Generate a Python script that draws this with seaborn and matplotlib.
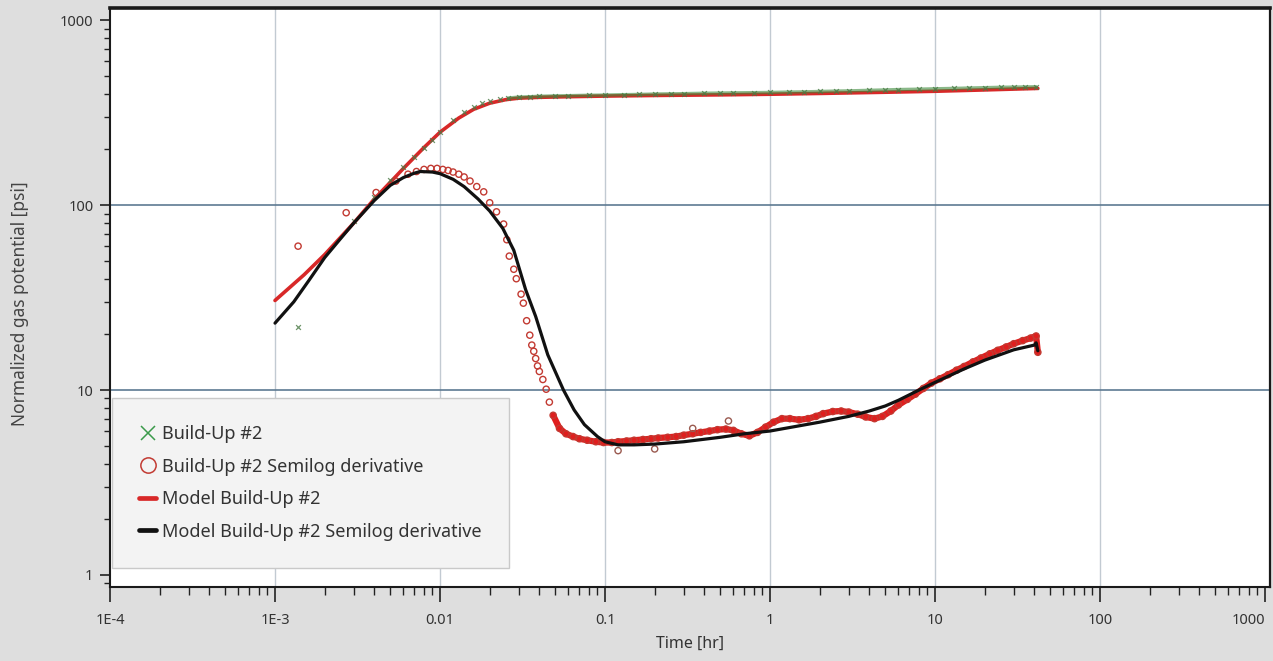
import numpy as np
import pandas as pd
import matplotlib
matplotlib.use("Agg")
import matplotlib.pyplot as plt
import seaborn as sns
from matplotlib.lines import Line2D
from matplotlib.ticker import LogLocator, NullFormatter, FixedLocator, FixedFormatter

# ---------------- data ----------------
# Build-Up #2 (pressure data, green x)
pressure_t = [0.00138, 0.0030, 0.0040, 0.0050, 0.0060, 0.0070, 0.0080, 0.0090, 0.010, 0.012,
              0.014, 0.016, 0.018, 0.020, 0.023, 0.026, 0.030, 0.035, 0.040, 0.050,
              0.060, 0.080, 0.10, 0.13, 0.16, 0.20, 0.25, 0.30, 0.40, 0.50,
              0.60, 0.80, 1.0, 1.3, 1.6, 2.0, 2.5, 3.0, 4.0, 5.0,
              6.0, 8.0, 10, 13, 16, 20, 25, 30, 35, 41]
pressure_v = [22, 82, 110, 136, 161, 182, 205, 226, 248, 290,
              320, 340, 356, 364, 375, 380, 384, 386, 388, 390,
              391, 393, 394, 396, 397, 399, 400, 401, 403, 404,
              405, 406, 407, 409, 410, 412, 414, 415, 418, 420,
              422, 424, 426, 428, 430, 432, 434, 435, 436, 437]

# Build-Up #2 Semilog derivative (red circles)
deriv_t = [0.00138, 0.0027, 0.0041, 0.0054, 0.0064, 0.0072, 0.0080, 0.0088, 0.0096, 0.0104,
           0.0112, 0.0120, 0.0130, 0.0140, 0.0152, 0.0167, 0.0184, 0.0200, 0.0220, 0.0243,
           0.0254, 0.0263, 0.0280, 0.0290, 0.0310, 0.0320, 0.0335, 0.0350, 0.0360, 0.0370,
           0.0380, 0.0390, 0.0400, 0.0420, 0.0440, 0.0460,
           0.0485, 0.053, 0.058, 0.064, 0.070, 0.078, 0.088, 0.098, 0.11, 0.12,
           0.135, 0.15, 0.17, 0.19, 0.21, 0.24, 0.27, 0.30, 0.34, 0.38,
           0.43, 0.48, 0.54, 0.60, 0.67, 0.75, 0.84, 0.94, 1.05, 1.18,
           1.32, 1.5, 1.7, 1.9, 2.1, 2.4, 2.7, 3.0, 3.4, 3.8,
           4.3, 4.8, 5.4, 6.0, 6.8, 7.6, 8.5, 9.5, 10.7, 12,
           13.5, 15, 17, 19, 21.5, 24, 27, 30, 34, 38, 41, 42]
deriv_v = [60, 91, 117, 135, 147, 152, 156, 158, 158, 156,
           154, 151, 147, 142, 135, 126, 118, 103, 92, 79,
           65, 53, 45, 40, 33, 29.5, 23.7, 19.8, 17.5, 16.2,
           14.8, 13.5, 12.6, 11.4, 10.1, 8.6,
           7.3, 6.2, 5.8, 5.6, 5.45, 5.35, 5.25, 5.2, 5.2, 5.25,
           5.3, 5.35, 5.4, 5.45, 5.5, 5.55, 5.6, 5.7, 5.8, 5.9,
           6.0, 6.1, 6.15, 6.05, 5.8, 5.65, 5.9, 6.3, 6.7, 7.0,
           7.0, 6.9, 7.0, 7.2, 7.45, 7.65, 7.7, 7.6, 7.4, 7.15,
           7.0, 7.2, 7.7, 8.3, 8.9, 9.5, 10.2, 10.9, 11.5, 12.1,
           12.8, 13.4, 14.2, 14.9, 15.7, 16.4, 17.1, 17.8, 18.5, 19.1, 19.6, 16.0]
deriv_outlier_t = [0.12, 0.20, 0.34, 0.56]
deriv_outlier_v = [4.7, 4.8, 6.2, 6.8]
band_start = 0.048  # derivative points from here on form a dense band

# Model Build-Up #2 (red line)
model_t = [0.001, 0.0015, 0.002, 0.003, 0.004, 0.005, 0.006, 0.008, 0.010, 0.013,
           0.016, 0.020, 0.025, 0.030, 0.040, 0.060, 0.10, 0.20, 0.50, 1.0,
           2.0, 5.0, 10, 20, 42]
model_v = [30.5, 42, 54, 80, 108, 133, 158, 205, 248, 296,
           330, 356, 372, 379, 383, 386, 389, 392, 395, 398,
           402, 408, 413, 420, 428]

# Model Build-Up #2 Semilog derivative (black line)
model_d_t = [0.001, 0.0013, 0.0016, 0.002, 0.0025, 0.003, 0.004, 0.005, 0.006, 0.007,
             0.0076, 0.009, 0.010, 0.012, 0.014, 0.017, 0.020, 0.024, 0.028, 0.033,
             0.038, 0.045, 0.056, 0.065, 0.075, 0.090, 0.10, 0.12, 0.15, 0.20,
             0.30, 0.50, 0.70, 1.0, 1.5, 2.0, 3.0, 4.0, 5.0, 6.0,
             8.0, 10, 15, 20, 30, 40, 41, 42]
model_d_v = [23, 30, 39, 52, 66, 80, 106, 128, 141, 149,
             152, 151, 148, 138, 126, 108, 93, 75, 57, 35,
             25, 15.5, 10, 7.8, 6.5, 5.6, 5.25, 5.05, 5.05, 5.1,
             5.25, 5.55, 5.8, 6.0, 6.4, 6.7, 7.2, 7.7, 8.2, 8.8,
             10.0, 11.0, 13.0, 14.5, 16.5, 17.5, 18.0, 16.3]

x_ticks = [1e-4, 1e-3, 1e-2, 1e-1, 1, 10, 100, 1000]
x_tick_labels = ["1E-4", "1E-3", "0.01", "0.1", "1", "10", "100", "1000"]
y_ticks = [1, 10, 100, 1000]
y_tick_labels = ["1", "10", "100", "1000"]

legend_labels = ["Build-Up #2", "Build-Up #2 Semilog derivative",
                 "Model Build-Up #2", "Model Build-Up #2 Semilog derivative"]

# ---------------- styling ----------------
sns.set_theme(style="white")
plt.rcParams["font.family"] = ["Noto Sans", "DejaVu Sans"]

GREEN = "#3a9a4a"
RED_DATA = "#c23a32"
RED_BAND = "#e01e1e"
RED_MODEL = "#d82828"
BLACK = "#111111"
BG = "#dedede"

fig = plt.figure(figsize=(12.73, 6.61), dpi=100, facecolor=BG)
ax = fig.add_axes([110 / 1273, 1 - 587 / 661, 1160 / 1273, 579 / 661])
ax.set_facecolor("white")

pdf = pd.DataFrame({"t": pressure_t, "v": pressure_v})
ddf = pd.DataFrame({"t": deriv_t, "v": deriv_v})
odf = pd.DataFrame({"t": deriv_outlier_t, "v": deriv_outlier_v})
mdf = pd.DataFrame({"t": model_t, "v": model_v})
mddf = pd.DataFrame({"t": model_d_t, "v": model_d_v})

ax.set_xscale("log")
ax.set_yscale("log")

# gridlines
for xv in x_ticks[1:-1]:
    ax.axvline(xv, color="#c2cad2", lw=1.0, zorder=0)
for yv in [10, 100]:
    ax.axhline(yv, color="#5d7a92", lw=1.2, zorder=0)

# model pressure (red)
sns.lineplot(data=mdf, x="t", y="v", ax=ax, color=RED_MODEL, lw=2.6, estimator=None,
             sort=False, zorder=3, legend=False)

# pressure data (green): dense flat part blends over the model line
flat = pdf[pdf["t"] >= 0.025]
sns.lineplot(data=flat, x="t", y="v", ax=ax, color="#3d8a3a", lw=2.4, alpha=0.6,
             estimator=None, sort=False, zorder=4, legend=False)
sns.scatterplot(data=pdf, x="t", y="v", ax=ax, marker="x", color="#4a7a45", s=12,
                linewidth=0.9, alpha=0.8, zorder=4, legend=False)

# derivative data: dense band + circles
band = ddf[ddf["t"] >= band_start]
sns.lineplot(data=band, x="t", y="v", ax=ax, color=RED_BAND, lw=4.5, estimator=None,
             sort=False, zorder=4, legend=False)
sns.scatterplot(data=ddf, x="t", y="v", ax=ax, marker="o", facecolor="none",
                edgecolor=RED_DATA, s=20, linewidth=1.0, zorder=5, legend=False)
sns.scatterplot(data=odf, x="t", y="v", ax=ax, marker="o", facecolor="none",
                edgecolor="#9a5a50", s=20, linewidth=1.0, zorder=5, legend=False)

# model derivative (black)
sns.lineplot(data=mddf, x="t", y="v", ax=ax, color=BLACK, lw=2.3, estimator=None,
             sort=False, zorder=6, legend=False)

# axes limits & ticks
ax.set_xlim(1e-4, 1072)
ax.set_ylim(0.86, 1165)
ax.xaxis.set_major_locator(FixedLocator(x_ticks))
ax.xaxis.set_major_formatter(FixedFormatter(x_tick_labels))
ax.xaxis.set_minor_locator(LogLocator(base=10, subs=np.arange(2, 10), numticks=50))
ax.xaxis.set_minor_formatter(NullFormatter())
ax.yaxis.set_major_locator(FixedLocator(y_ticks))
ax.yaxis.set_major_formatter(FixedFormatter(y_tick_labels))
ax.yaxis.set_minor_locator(LogLocator(base=10, subs=np.arange(2, 10), numticks=50))
ax.yaxis.set_minor_formatter(NullFormatter())

ax.tick_params(axis="x", which="major", direction="out", length=11, width=1.2,
               color="#222222", labelsize=10.5, labelcolor="#333333", pad=8, bottom=True)
ax.tick_params(axis="x", which="minor", direction="out", length=6, width=1.0,
               color="#222222", bottom=True)
ax.tick_params(axis="y", which="major", direction="out", length=7, width=1.2,
               color="#222222", labelsize=10.5, labelcolor="#333333", pad=5, left=True)
ax.tick_params(axis="y", which="minor", direction="out", length=4.5, width=1.0,
               color="#222222", left=True)

# keep the last x label inside the figure, as in the reference
xt_labels = ax.get_xticklabels()
xt_labels[-1].set_horizontalalignment("right")

for side, lw in [("left", 1.5), ("bottom", 1.5), ("right", 1.6), ("top", 2.6)]:
    ax.spines[side].set_visible(True)
    ax.spines[side].set_color("#1a1a1a")
    ax.spines[side].set_linewidth(lw)

ax.set_xlabel("Time [hr]", fontsize=11.5, color="#333333")
ax.set_ylabel("Normalized gas potential [psi]", fontsize=12.5, color="#444444")
ax.xaxis.set_label_coords(0.5, -0.085)
ax.yaxis.set_label_coords(-0.070, 0.49)

# legend
handles = [
    Line2D([], [], ls="none", marker="x", color=GREEN, markersize=10, markeredgewidth=1.1),
    Line2D([], [], ls="none", marker="o", markerfacecolor="none", markeredgecolor=RED_DATA,
           markersize=11, markeredgewidth=1.1),
    Line2D([], [], color=RED_MODEL, lw=3.4),
    Line2D([], [], color=BLACK, lw=3.4),
]
leg = ax.legend(handles, legend_labels, loc="upper left", bbox_to_anchor=(0.002, 0.326),
                frameon=True, fancybox=False, fontsize=13, labelspacing=0.8,
                borderpad=1.5, handlelength=0.9, handletextpad=0.35, borderaxespad=0)
leg.get_frame().set_facecolor("#f3f3f3")
leg.get_frame().set_edgecolor("#c9c9c9")
leg.get_frame().set_linewidth(1.0)
leg.get_frame().set_alpha(1.0)
for txt in leg.get_texts():
    txt.set_color("#333333")
leg.set_zorder(10)

fig.savefig("out.png", dpi=100, facecolor=BG)
